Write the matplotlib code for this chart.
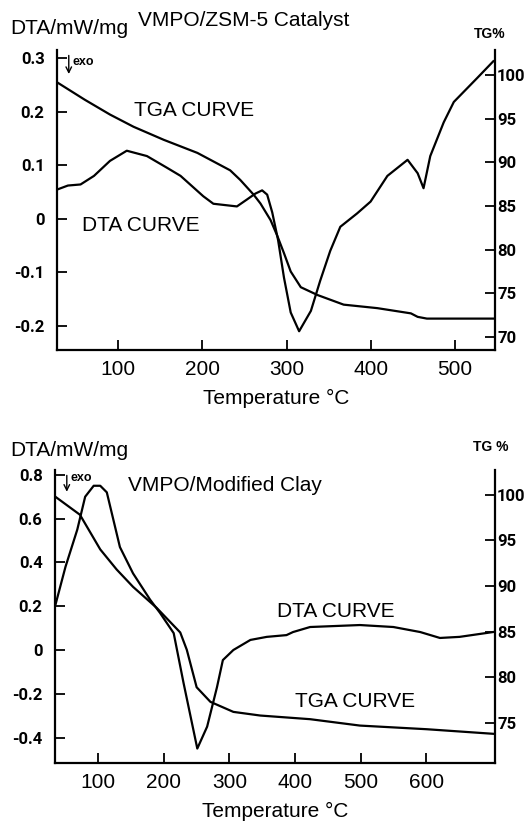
import matplotlib
matplotlib.use("Agg")
import matplotlib.pyplot as plt

plt.rcParams['font.family'] = ['Liberation Sans', 'DejaVu Sans']
plt.rcParams['axes.unicode_minus'] = False

# --- top panel: VMPO/ZSM-5 catalyst ---
zsm_tga_t = [27, 60, 90, 118, 154, 194, 233, 245, 261, 269, 281, 289, 297, 305, 317, 337, 368, 408, 448, 456, 467, 500, 547]
zsm_tga = [99.2, 97.2, 95.5, 94.1, 92.6, 91.1, 89.1, 88.0, 86.3, 85.3, 83.4, 81.6, 79.6, 77.5, 75.7, 74.8, 73.7, 73.3, 72.7, 72.3, 72.1, 72.1, 72.1]

zsm_dta_t = [28, 40, 55, 71, 90, 110, 134, 158, 174, 201, 213, 241, 253, 263, 271, 277, 283, 290, 297, 305, 315,
             329, 340, 352, 364, 384, 400, 420, 444, 456, 463, 471, 487, 499, 527, 546]
zsm_dta = [0.055, 0.062, 0.064, 0.080, 0.108, 0.127, 0.117, 0.095, 0.080, 0.042, 0.028, 0.023, 0.036, 0.047, 0.053, 0.045, 0.012, -0.040,
           -0.110, -0.175, -0.210, -0.172, -0.116, -0.060, -0.015, 0.010, 0.032, 0.080, 0.110, 0.085, 0.057, 0.117, 0.180, 0.218, 0.263, 0.294]

# --- bottom panel: VMPO/Modified Clay ---
clay_tga_t = [34, 72, 103, 128, 153, 189, 225, 235, 250, 271, 306, 347, 423, 499, 601, 702]
clay_tga = [99.8, 97.8, 94.0, 91.8, 89.9, 87.6, 84.9, 83.0, 78.9, 77.3, 76.2, 75.8, 75.4, 74.7, 74.3, 73.8]

clay_dta_t = [35, 50, 68, 80, 93, 103, 113, 133, 153, 179, 194, 215, 230, 251, 266, 281, 290, 306, 332, 357,
              387, 397, 423, 499, 550, 591, 621, 651, 702]
clay_dta = [0.21, 0.38, 0.55, 0.70, 0.75, 0.75, 0.72, 0.47, 0.35, 0.23, 0.17, 0.077, -0.15, -0.45, -0.35, -0.17, -0.046, 0.0, 0.046, 0.06,
            0.068, 0.082, 0.105, 0.114, 0.105, 0.082, 0.055, 0.06, 0.082]

zsm_dta_ticks = [0.3, 0.2, 0.1, 0, -0.1, -0.2]
zsm_dta_labels = ['0.3', '0.2', '0.1', '0', '-0.1', '-0.2']
zsm_tg_ticks = [100, 95, 90, 85, 80, 75, 70]
clay_dta_ticks = [0.8, 0.6, 0.4, 0.2, 0, -0.2, -0.4]
clay_dta_labels = ['0.8', '0.6', '0.4', '0.2', '0', '-0.2', '-0.4']
clay_tg_ticks = [100, 95, 90, 85, 80, 75]

W, H = 528, 822
LW = 1.6
FS = 15
bold_font = dict(family=['Roboto', 'DejaVu Sans'], weight='bold', size=12)


def fx(px):
    return px / W


def fy(py):
    return 1 - py / H


def style_axes(ax, ax2, xt, yt, ylabels, tgt):
    for s in ['left', 'bottom']:
        ax.spines[s].set_linewidth(LW)
    ax.spines['top'].set_visible(False)
    ax.spines['right'].set_visible(False)
    for s in ['top', 'left', 'bottom']:
        ax2.spines[s].set_visible(False)
    ax2.spines['right'].set_linewidth(LW)

    ax.set_xticks(xt)
    ax.set_xticklabels([str(v) for v in xt], fontsize=FS)
    ax.tick_params(axis='x', direction='in', length=7, width=1.3, pad=7)
    ax.set_yticks(yt)
    ax.set_yticklabels(ylabels, **bold_font)
    ax.tick_params(axis='y', direction='in', length=7, width=1.3, pad=9)

    ax2.set_yticks(tgt)
    ax2.set_yticklabels([str(v) for v in tgt], **bold_font)
    ax2.tick_params(axis='y', direction='in', length=7, width=1.3, pad=1.5)
    ax.set_xlabel('Temperature \u00b0C', fontsize=FS, labelpad=7)


fig = plt.figure(figsize=(W / 100, H / 100), dpi=100)

# top panel
ax = fig.add_axes([fx(57), fy(350), fx(495) - fx(57), fy(50) - fy(350)])
ax2 = ax.twinx()
ax.plot(zsm_dta_t, zsm_dta, color='black', lw=LW)
ax2.plot(zsm_tga_t, zsm_tga, color='black', lw=LW)
ax.set_xlim(27, 548)
ax.set_ylim(-0.245, 0.315)
ax2.set_ylim(68.5, 102.9)
style_axes(ax, ax2, [100, 200, 300, 400, 500], zsm_dta_ticks, zsm_dta_labels, zsm_tg_ticks)
ax.text(118, 0.203, 'TGA CURVE', fontsize=FS, va='center')
ax.text(57, -0.013, 'DTA CURVE', fontsize=FS, va='center')
ax.annotate('', xy=(41, 0.265), xytext=(41, 0.31),
            arrowprops=dict(arrowstyle='->', lw=1.0, color='black'))
ax.text(45, 0.293, 'exo', fontsize=9, weight='bold', va='center')

fig.text(fx(10), fy(29), 'DTA/mW/mg', fontsize=FS, va='center')
fig.text(fx(138), fy(21), 'VMPO/ZSM-5 Catalyst', fontsize=FS, va='center')
fig.text(fx(490), fy(34), 'TG%', fontsize=10, weight='bold', va='center', ha='center')

# bottom panel
bx = fig.add_axes([fx(55), fy(763), fx(495) - fx(55), fy(470) - fy(763)])
bx2 = bx.twinx()
bx.plot(clay_dta_t, clay_dta, color='black', lw=LW)
bx2.plot(clay_tga_t, clay_tga, color='black', lw=LW)
bx.set_xlim(34, 705)
bx.set_ylim(-0.516, 0.822)
bx2.set_ylim(70.6, 102.7)
style_axes(bx, bx2, [100, 200, 300, 400, 500, 600], clay_dta_ticks, clay_dta_labels, clay_tg_ticks)
bx.text(373, 0.174, 'DTA CURVE', fontsize=FS, va='center')
bx.text(400, -0.233, 'TGA CURVE', fontsize=FS, va='center')
bx.annotate('', xy=(52, 0.71), xytext=(52, 0.81),
            arrowprops=dict(arrowstyle='->', lw=1.0, color='black'))
bx.text(57, 0.785, 'exo', fontsize=9, weight='bold', va='center')

fig.text(fx(10), fy(450), 'DTA/mW/mg', fontsize=FS, va='center')
fig.text(fx(128), fy(485), 'VMPO/Modified Clay', fontsize=FS, va='center')
fig.text(fx(491), fy(447), 'TG %', fontsize=10, weight='bold', va='center', ha='center')

fig.savefig('out.png', dpi=100)
